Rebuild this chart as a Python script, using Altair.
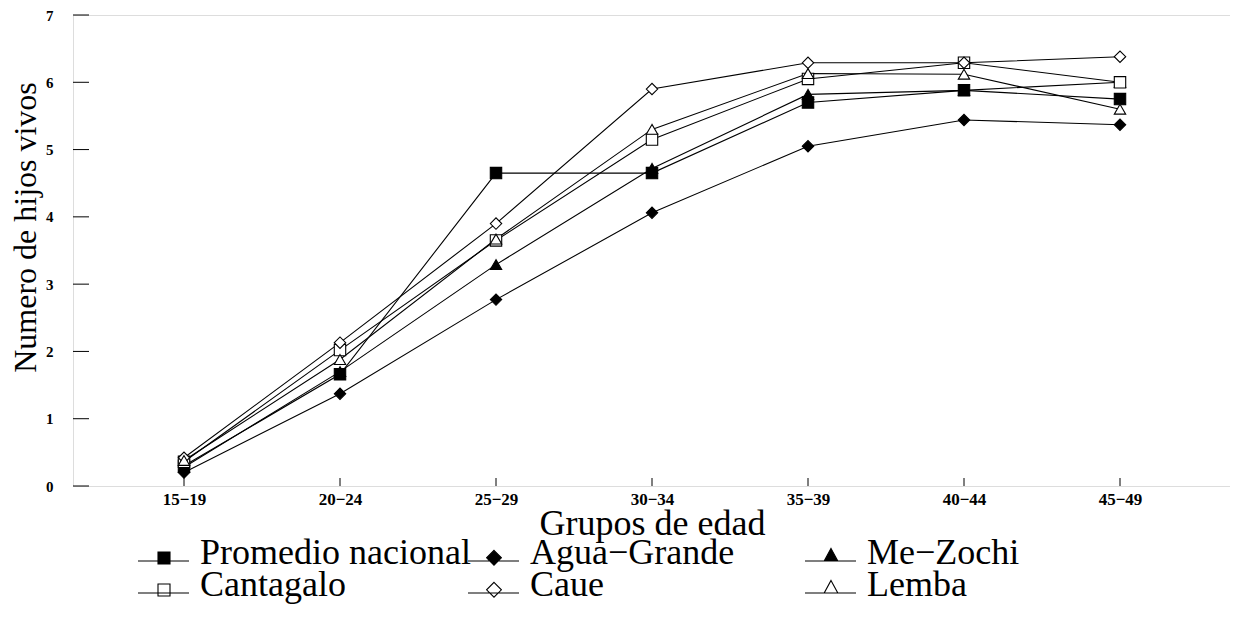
import altair as alt
import pandas as pd

ages = ["15−19", "20−24", "25−29", "30−34", "35−39", "40−44", "45−49"]
series_names = ["Promedio nacional", "Agua−Grande", "Me−Zochi", "Cantagalo", "Caue", "Lemba"]

promedio = [0.30, 1.66, 4.65, 4.65, 5.70, 5.88, 5.75]
agua_grande = [0.20, 1.37, 2.77, 4.06, 5.05, 5.44, 5.37]
me_zochi = [0.28, 1.70, 3.29, 4.72, 5.82, 5.88, 6.00]
cantagalo = [0.36, 2.02, 3.65, 5.15, 6.05, 6.29, 6.00]
caue = [0.42, 2.13, 3.90, 5.90, 6.29, 6.29, 6.38]
lemba = [0.38, 1.88, 3.67, 5.30, 6.13, 6.12, 5.60]

point_shapes = ["square", "diamond", "triangle-up", "square", "diamond", "triangle-up"]
point_fills = ["black", "black", "black", "white", "white", "white"]
y_ticks = [0, 1, 2, 3, 4, 5, 6, 7]

title_text = "QUINQUENALES DE EDAD A NIVEL DE DISTRITO,1981 STP."
x_title = "Grupos de edad"
y_title = "Numero de hijos vivos"

rows = []
for name, vals in zip(series_names, [promedio, agua_grande, me_zochi, cantagalo, caue, lemba]):
    for i, (a, v) in enumerate(zip(ages, vals)):
        rows.append({"serie": name, "edad": a, "idx": i, "valor": v})
df = pd.DataFrame(rows)
df_y = pd.DataFrame({"valor": y_ticks})
df_x = pd.DataFrame({"edad": ages})

# legend entries: 3 columns x 2 rows, in series order
df_leg = pd.DataFrame({
    "serie": series_names,
    "col": [i % 3 for i in range(len(series_names))],
    "row": [i // 3 for i in range(len(series_names))],
})

FONT = "Liberation Serif"
W, H = 1157, 471

# legend symbol: a short line segment with the marker, drawn left of the label
leg_paths = {
    "square": "M-3.1,-0.15H-0.55M-2.1,-0.6H-1.5V0H-2.1Z",
    "diamond": "M-3.1,-0.15H-0.55M-1.8,-0.68L-1.43,-0.31L-1.8,0.06L-2.17,-0.31Z",
    "triangle-up": "M-3.1,-0.15H-0.55M-1.8,-0.78L-1.46,-0.15L-2.14,-0.15Z",
}
legend_shapes = [leg_paths[s] for s in point_shapes]

x_scale = alt.Scale(type="point", range=[33, 1125])
y_scale = alt.Scale(domain=[0, 7], nice=False)

x_enc = alt.X(
    "edad:N", sort=ages, scale=x_scale,
    axis=alt.Axis(
        title=x_title, labelAngle=0, labelFont=FONT, labelFontWeight="bold",
        labelFontSize=17, labelColor="black", ticks=False, tickSize=0, domain=False,
        labelPadding=5, labelBaseline="top", titleFont=FONT, titleFontSize=36,
        titleFontWeight="normal", titleColor="black", titleBaseline="alphabetic",
        titleY=48,
    ),
)
y_enc = alt.Y(
    "valor:Q", scale=y_scale,
    axis=alt.Axis(
        values=y_ticks, format="d", title=y_title, labelFont=FONT, labelFontWeight="bold",
        labelFontSize=15, labelColor="black", ticks=False, tickSize=0, domain=False, grid=False,
        labelPadding=20, titleFont=FONT, titleFontSize=32, titleFontWeight="normal",
        titleColor="black", titleBaseline="alphabetic", titleX=-38, titleY=212,
    ),
)

base = alt.Chart(df)
lines = base.mark_line(color="black", strokeWidth=1.1).encode(
    x=x_enc, y=y_enc, detail="serie:N", order=alt.Order("idx:Q")
)
points = base.mark_point(filled=True, size=130, stroke="black", strokeWidth=1.1, opacity=1).encode(
    x=alt.X("edad:N", sort=ages),
    y=alt.Y("valor:Q"),
    shape=alt.Shape("serie:N", scale=alt.Scale(domain=series_names, range=point_shapes), legend=None),
    fill=alt.Fill("serie:N", scale=alt.Scale(domain=series_names, range=point_fills), legend=None),
)
yt = alt.Chart(df_y).mark_rule(color="black", strokeWidth=1).encode(
    y=alt.Y("valor:Q"), x=alt.value(0), x2=alt.value(16)
)
xt = alt.Chart(df_x).mark_rule(color="black", strokeWidth=1).encode(
    x=alt.X("edad:N", sort=ages), y=alt.value(H), y2=alt.value(H - 8)
)
main = alt.layer(lines, yt, xt, points)

# legend drawn as its own layer with its own column/row scales
leg_x = alt.X("col:Q", scale=alt.Scale(domain=[0, 1, 2], range=[127, 457, 794]), axis=None)
leg_y = alt.Y("row:Q", scale=alt.Scale(domain=[0, 1], range=[549, 581]), axis=None)
leg_base = alt.Chart(df_leg)
leg_sym = leg_base.mark_point(filled=True, size=1600, stroke="black", strokeWidth=1.1, opacity=1).encode(
    x=leg_x, y=leg_y,
    shape=alt.Shape("serie:N", scale=alt.Scale(domain=series_names, range=legend_shapes), legend=None),
    fill=alt.Fill("serie:N", scale=alt.Scale(domain=series_names, range=point_fills), legend=None),
)
leg_txt = leg_base.mark_text(
    align="left", baseline="alphabetic", font=FONT, fontSize=36, color="black"
).encode(x=leg_x, y=leg_y, text="serie:N")
legend = alt.layer(leg_sym, leg_txt)

chart = alt.layer(main, legend).resolve_scale(
    x="independent", y="independent", shape="independent", fill="independent"
).properties(
    width=W, height=H,
    title=alt.TitleParams(title_text, font=FONT, fontSize=38, fontWeight="normal",
                          color="black", anchor="middle", baseline="alphabetic", offset=1),
    autosize=alt.AutoSizeParams(type="none"),
    padding={"left": 65, "top": 7, "right": 0, "bottom": 134},
).configure_view(stroke="black", strokeWidth=1).configure(background="white")

chart.save("out.html", embed_options={"renderer": "svg", "actions": False})
